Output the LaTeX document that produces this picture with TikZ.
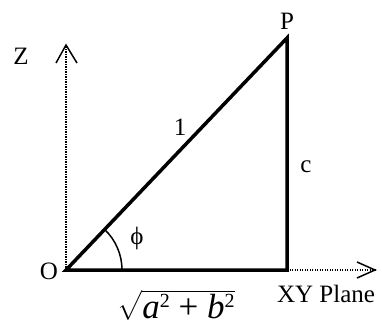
\documentclass[tikz,border=0pt]{standalone}
\usepackage{fontspec}
\usepackage{amsmath}
\usepackage{exscale}
\setmainfont{Liberation Serif}
\usetikzlibrary{calc}
\newcommand{\supsz}[1]{\raisebox{11.6pt}{\fontsize{20}{24}\selectfont #1}}
\newcommand{\itv}[1]{\mbox{\fontsize{35}{42}\selectfont\itshape #1}}
\newcommand{\plusv}{\mbox{\fontsize{35}{42}\selectfont\ +\ }}
\begin{document}
\begin{tikzpicture}[x=1pt,y=-1pt,
  side/.style={line width=3.5pt,line cap=round,line join=miter},
  axisline/.style={line width=1.2pt,dash pattern=on 1.2pt off 1.3pt},
  headline/.style={line width=1.5pt},
  lbl/.style={inner sep=0pt,font=\fontsize{25}{30}\selectfont},
  mathlbl/.style={inner sep=0pt,font=\fontsize{35}{42}\selectfont}]
\useasboundingbox (0,0) rectangle (382,327);
\coordinate (O) at (66,270);
\coordinate (C) at (287,270);
\coordinate (P) at (287,38);
\coordinate (Ztip) at (66,45);
\coordinate (Zl) at (56,63);
\coordinate (Zr) at (77,63);
\coordinate (Xtip) at (375,270);
\coordinate (Xu) at (357,262);
\coordinate (Xd) at (357,278);
\coordinate (A0) at (122,270);
% axes
\draw[axisline] (O) -- (Ztip);
\draw[headline] (Zl) -- (Ztip) -- (Zr);
\draw[axisline] (C) -- (Xtip);
\draw[headline] (Xu) -- (Xtip) -- (Xd);
% triangle
\draw[side] (P) -- (C) -- (O) -- cycle;
% angle arc
\draw[headline] (A0) arc[start angle=0,end angle=-46.4,radius=56];
% labels
\node[lbl] (zl) at (21,56) {Z};
\node[lbl] (pl) at (287,21) {P};
\node[lbl] (ol) at (49,271) {O};
\node[lbl] (one) at (180,127) {1};
\node[lbl] (cl) at (306,167) {c};
\node[lbl] (phi) at (137,238) {ϕ};
\node[lbl] (xy) at (326,294) {XY Plane};
\node[mathlbl] (sq) at (176,305) {$\sqrt{\itv{a}\supsz{2}\plusv\itv{b}\supsz{2}}$};
\end{tikzpicture}
\end{document}
